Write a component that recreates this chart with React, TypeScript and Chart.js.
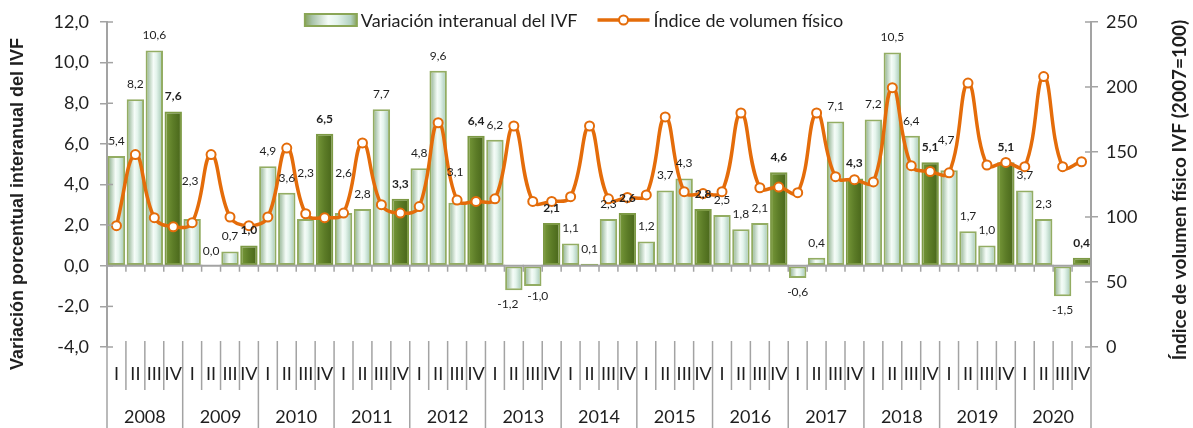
import React, { useEffect, useRef } from "react";
import { Chart, registerables } from "chart.js";

Chart.register(...registerables);

const years = ["2008", "2009", "2010", "2011", "2012", "2013", "2014", "2015", "2016", "2017", "2018", "2019", "2020"];
const quarters = ["I", "II", "III", "IV"];

// Variación interanual del IVF (%)
const variation = [
  5.4, 8.2, 10.6, 7.6,
  2.3, 0.0, 0.7, 1.0,
  4.9, 3.6, 2.3, 6.5,
  2.6, 2.8, 7.7, 3.3,
  4.8, 9.6, 3.1, 6.4,
  6.2, -1.2, -1.0, 2.1,
  1.1, 0.1, 2.3, 2.6,
  1.2, 3.7, 4.3, 2.8,
  2.5, 1.8, 2.1, 4.6,
  -0.6, 0.4, 7.1, 4.3,
  7.2, 10.5, 6.4, 5.1,
  4.7, 1.7, 1.0, 5.1,
  3.7, 2.3, -1.5, 0.4,
];

// Índice de volumen físico (2007=100)
const ivf = [
  93.3, 148, 99.5, 92.5,
  95.6, 148, 100, 93.3,
  100, 153, 102.5, 99.5,
  103, 157, 109.5, 103,
  108, 172.5, 113, 112,
  114, 170, 112, 112,
  115.6, 170, 114, 115,
  117, 177, 119.5, 118,
  119.5, 180, 122.5, 123,
  118.7, 180, 131, 128.7,
  127, 199.5, 139.5, 135,
  134, 203, 140, 142,
  138.7, 208, 138.7, 142.5,
];

const leftTicks = { min: -4, max: 12, step: 2 };
const rightTicks = { min: 0, max: 250, step: 50 };

const barLabel = "Variación interanual del IVF";
const lineLabel = "Índice de volumen físico";
const leftTitle = "Variación porcentual interanual del IVF";
const rightTitle = "Índice de volumen físico IVF (2007=100)";

const categories = years.flatMap((y) => quarters.map((q) => `${q} ${y}`));

// manual label nudges (as in the original, where some labels were moved off the line)
const labelNudge: Record<number, { dx: number; dy: number }> = {
  4: { dx: -2, dy: -23 },
  10: { dx: 0, dy: -31 },
  12: { dx: 0, dy: -25 },
  18: { dx: -2, dy: -16 },
  44: { dx: -3, dy: -15 },
  21: { dx: -6, dy: 0 },
  22: { dx: 5, dy: -4 },
};

const ORANGE = "#E46C0A";
const AXIS = "#a3a3a3";
const TEXT = "#1f1f1f";
const BAR_PCT = 0.92;

function lightGradient(ctx: CanvasRenderingContext2D, x0: number, x1: number) {
  const g = ctx.createLinearGradient(x0, 0, x1, 0);
  g.addColorStop(0, "#86a25c");
  g.addColorStop(0.14, "#a8c3a9");
  g.addColorStop(0.45, "#f5fcf8");
  g.addColorStop(0.62, "#e4f4ec");
  g.addColorStop(0.88, "#b3d2c1");
  g.addColorStop(1, "#86a25c");
  return g;
}

function darkGradient(ctx: CanvasRenderingContext2D, x0: number, x1: number) {
  const g = ctx.createLinearGradient(x0, 0, x1, 0);
  g.addColorStop(0, "#8fae4c");
  g.addColorStop(0.18, "#6f9034");
  g.addColorStop(0.5, "#5c7c27");
  g.addColorStop(0.85, "#4d6b1d");
  g.addColorStop(1, "#7c9b3d");
  return g;
}

const fmt = (v: number) => v.toFixed(1).replace(".", ",");

const customPlugin = {
  id: "customDecor",
  afterDatasetsDraw(chart: any) {
    const { ctx, chartArea } = chart;
    const xs = chart.scales.x;
    const ys = chart.scales.y;
    const step = xs.getPixelForValue(1) - xs.getPixelForValue(0);
    const y0 = ys.getPixelForValue(0);
    ctx.save();
    // zero axis line with boundary ticks
    ctx.strokeStyle = AXIS;
    ctx.lineWidth = 2;
    ctx.beginPath();
    ctx.moveTo(chartArea.left, y0);
    ctx.lineTo(chartArea.right, y0);
    ctx.stroke();
    ctx.lineWidth = 1.5;
    for (let i = 0; i <= categories.length; i++) {
      const bx = xs.getPixelForValue(0) - step / 2 + i * step;
      ctx.beginPath();
      ctx.moveTo(bx, y0 - 1);
      ctx.lineTo(bx, y0 + 6);
      ctx.stroke();
    }
    // bar data labels
    const meta = chart.getDatasetMeta(0);
    ctx.fillStyle = TEXT;
    ctx.textAlign = "center";
    meta.data.forEach((el: any, i: number) => {
      const v = variation[i];
      const bold = i % 4 === 3;
      const n = labelNudge[i] || { dx: 0, dy: 0 };
      ctx.font = `${bold ? "bold " : ""}12px Lato`;
      if (v >= 0) {
        ctx.textBaseline = "bottom";
        ctx.fillText(fmt(v), el.x + n.dx, el.y - 9 + n.dy);
      } else {
        ctx.textBaseline = "top";
        ctx.fillText(fmt(v), el.x + n.dx, el.y + 8 + n.dy);
      }
    });
    ctx.restore();
  },
  afterDraw(chart: any) {
    const { ctx, chartArea } = chart;
    const xs = chart.scales.x;
    const ys = chart.scales.y;
    const y1 = chart.scales.y1;
    const step = xs.getPixelForValue(1) - xs.getPixelForValue(0);
    const H = chart.height;
    ctx.save();

    // inner tick marks on value axes
    ctx.strokeStyle = AXIS;
    ctx.lineWidth = 1.5;
    ys.ticks.forEach((t: any) => {
      const py = ys.getPixelForValue(t.value);
      ctx.beginPath();
      ctx.moveTo(chartArea.left, py);
      ctx.lineTo(chartArea.left + 6, py);
      ctx.stroke();
    });
    y1.ticks.forEach((t: any) => {
      const py = y1.getPixelForValue(t.value);
      ctx.beginPath();
      ctx.moveTo(chartArea.right, py);
      ctx.lineTo(chartArea.right - 6, py);
      ctx.stroke();
    });

    // multi-level category axis
    const top = chartArea.bottom - 6;
    const firstB = xs.getPixelForValue(0) - step / 2;
    for (let i = 0; i <= categories.length; i++) {
      const bx = firstB + i * step;
      const isYear = i % 4 === 0;
      ctx.lineWidth = 1.5;
      ctx.beginPath();
      ctx.moveTo(bx, top);
      ctx.lineTo(bx, isYear ? H : chartArea.bottom + 43);
      ctx.stroke();
    }
    ctx.fillStyle = TEXT;
    ctx.textAlign = "center";
    ctx.textBaseline = "middle";
    ctx.font = "18px Lato";
    categories.forEach((_, i) => {
      ctx.fillText(quarters[i % 4], xs.getPixelForValue(i), chartArea.bottom + 27);
    });
    years.forEach((y, k) => {
      const cx = (xs.getPixelForValue(k * 4) + xs.getPixelForValue(k * 4 + 3)) / 2;
      ctx.fillText(y, cx, chartArea.bottom + 70);
    });

    // axis titles
    ctx.font = "bold 18px 'Liberation Sans'";
    ctx.save();
    ctx.translate(18, 204);
    ctx.rotate(-Math.PI / 2);
    ctx.fillText(leftTitle, 0, 0);
    ctx.restore();
    ctx.font = "bold 19px Lato";
    ctx.save();
    ctx.translate(1180, 190);
    ctx.rotate(-Math.PI / 2);
    ctx.fillText(rightTitle, 0, 0);
    ctx.restore();

    // legend
    ctx.font = "18px Lato";
    const t1 = ctx.measureText(barLabel).width;
    const t2 = ctx.measureText(lineLabel).width;
    const iconW = 52;
    const total = iconW + 4 + t1 + 20 + iconW + 4 + t2;
    let x = 574 - total / 2;
    const ly = 20;
    ctx.fillStyle = lightGradient(ctx, x, x + iconW);
    ctx.fillRect(x, ly - 6, iconW, 12);
    ctx.strokeStyle = "#8aa656";
    ctx.lineWidth = 2;
    ctx.strokeRect(x, ly - 6, iconW, 12);
    x += iconW + 4;
    ctx.fillStyle = TEXT;
    ctx.textAlign = "left";
    ctx.fillText(barLabel, x, ly + 1);
    x += t1 + 20;
    ctx.strokeStyle = ORANGE;
    ctx.lineWidth = 3.5;
    ctx.beginPath();
    ctx.moveTo(x, ly);
    ctx.lineTo(x + iconW, ly);
    ctx.stroke();
    ctx.beginPath();
    ctx.arc(x + iconW / 2, ly, 4.5, 0, Math.PI * 2);
    ctx.fillStyle = "#ffffff";
    ctx.fill();
    ctx.lineWidth = 2;
    ctx.stroke();
    x += iconW + 4;
    ctx.fillStyle = TEXT;
    ctx.fillText(lineLabel, x, ly + 1);

    ctx.restore();
  },
};

export default function App() {
  const ref = useRef<HTMLCanvasElement | null>(null);

  useEffect(() => {
    if (!ref.current) return;
    const barBg = (c: any) => {
      const chart = c.chart;
      const xs = chart.scales?.x;
      if (!chart.chartArea || !xs) return "#c8dcc0";
      const i = c.dataIndex;
      const step = xs.getPixelForValue(1) - xs.getPixelForValue(0);
      const cx = xs.getPixelForValue(i);
      const w = step * BAR_PCT;
      return i % 4 === 3
        ? darkGradient(chart.ctx, cx - w / 2, cx + w / 2)
        : lightGradient(chart.ctx, cx - w / 2, cx + w / 2);
    };

    const chart = new Chart(ref.current, {
      type: "bar",
      data: {
        labels: categories,
        datasets: [
          {
            type: "bar",
            label: barLabel,
            data: variation,
            yAxisID: "y",
            backgroundColor: barBg,
            borderColor: (c: any) => (c.dataIndex % 4 === 3 ? "#7d9a45" : "#93ad63"),
            borderWidth: 2,
            borderSkipped: false,
            barPercentage: BAR_PCT,
            categoryPercentage: 1,
            order: 2,
          },
          {
            type: "line",
            label: lineLabel,
            data: ivf,
            yAxisID: "y1",
            borderColor: ORANGE,
            borderWidth: 3.5,
            tension: 0.42,
            pointRadius: 4.5,
            pointBorderWidth: 2,
            pointBackgroundColor: "#ffffff",
            pointBorderColor: ORANGE,
            fill: false,
            order: 1,
          },
        ],
      } as any,
      options: {
        animation: false,
        responsive: true,
        maintainAspectRatio: false,
        layout: { padding: { top: 22, bottom: 81, left: 0, right: 0 } },
        plugins: {
          legend: { display: false },
          tooltip: { enabled: false },
        },
        scales: {
          x: {
            type: "category",
            display: false,
            offset: true,
          },
          y: {
            position: "left",
            min: leftTicks.min,
            max: leftTicks.max,
            ticks: {
              stepSize: leftTicks.step,
              callback: (v: any) => fmt(Number(v)),
              font: { family: "Lato", size: 18 },
              color: TEXT,
              padding: 11,
            },
            grid: { drawOnChartArea: false, drawTicks: true, tickLength: 7, color: AXIS, lineWidth: 1.5 },
            border: { display: true, color: AXIS, width: 2 },
            afterFit: (s: any) => {
              s.width = 107;
            },
          },
          y1: {
            position: "right",
            min: rightTicks.min,
            max: rightTicks.max,
            ticks: {
              stepSize: rightTicks.step,
              font: { family: "Lato", size: 18 },
              color: TEXT,
              padding: 8,
            },
            grid: { drawOnChartArea: false, drawTicks: true, tickLength: 7, color: AXIS, lineWidth: 1.5 },
            border: { display: true, color: AXIS, width: 2 },
            afterFit: (s: any) => {
              s.width = 102;
            },
          },
        },
      } as any,
      plugins: [customPlugin],
    });
    return () => chart.destroy();
  }, []);

  return (
    <div style={{ position: "fixed", left: 0, top: 0, width: 1193, height: 428, background: "#ffffff" }}>
      <canvas ref={ref} />
    </div>
  );
}
